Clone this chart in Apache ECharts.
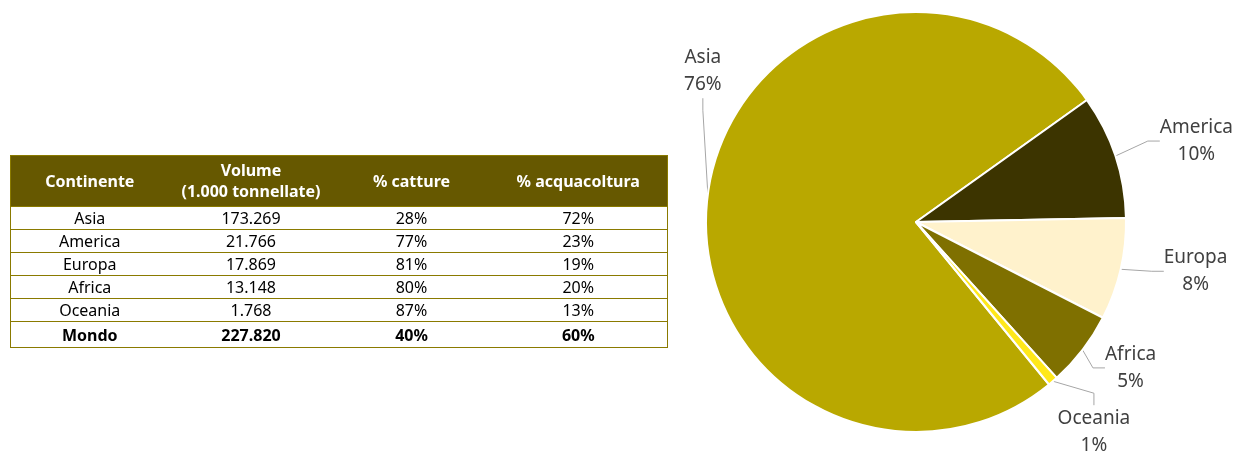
<!DOCTYPE html>
<html>
<head>
<meta charset="utf-8">
<script src="https://cdn.jsdelivr.net/npm/echarts@6/dist/echarts.min.js"></script>
<style>
  html, body { margin: 0; padding: 0; background: #fff; }
  #box { width: 1236px; height: 452px; position: absolute; left: 0; top: 0; }
  #tbl {
    position: absolute; left: 10px; top: 155px; width: 657px; table-layout: fixed;
    border-collapse: collapse; font-family: "Noto Sans", sans-serif; font-size: 16px;
    border: 1px solid #8a7a00;
  }
  #tbl th {
    background: #665800; color: #fff; font-weight: bold; height: 50px;
    line-height: 21px; padding: 0; text-align: center;
  }
  #tbl td {
    height: 22px; padding: 0; text-align: center; color: #000;
    border-top: 1px solid #8a7a00; line-height: 20px;
  }
  #tbl tr.total td { font-weight: bold; height: 25px; }
</style>
</head>
<body>
<div id="box"></div>
<table id="tbl"></table>
<script>
var continents = ["Asia", "America", "Europa", "Africa", "Oceania"];
var volumes = [173.269, 21.766, 17.869, 13.148, 1.768];
var volumeLabels = ["173.269", "21.766", "17.869", "13.148", "1.768"];
var catture = ["28%", "77%", "81%", "80%", "87%"];
var acquacoltura = ["72%", "23%", "19%", "20%", "13%"];
var pieLabels = ["76%", "10%", "8%", "5%", "1%"];
var totalRow = ["Mondo", "227.820", "40%", "60%"];
var headers = ["Continente", "Volume<br>(1.000 tonnellate)", "% catture", "% acquacoltura"];

var colWidths = [158, 165, 156, 178];
var colors = ["#b9a800", "#3c3400", "#fff2cc", "#7f7000", "#ffe81a"];
// spostamento etichette rispetto al bordo della fetta
var labelShift = [[-5, -123], [81, -15], [75, 2], [48, 18], [41, 51]];

// tabella
var html = "<colgroup>" + colWidths.map(function (w) { return '<col style="width:' + w + 'px">'; }).join("") + "</colgroup><tr>";
headers.forEach(function (h) {
  html += "<th>" + h + "</th>";
});
html += "</tr>";
continents.forEach(function (c, i) {
  html += "<tr><td>" + c + "</td><td>" + volumeLabels[i] + "</td><td>" + catture[i] + "</td><td>" + acquacoltura[i] + "</td></tr>";
});
html += '<tr class="total">' + totalRow.map(function (v) { return "<td>" + v + "</td>"; }).join("") + "</tr>";
document.getElementById("tbl").innerHTML = html;

// torta
var myChart = echarts.init(document.getElementById("box"));
var option = {
  animation: false,
  series: [
    {
      type: "pie",
      center: [916, 222],
      radius: 210,
      startAngle: 309.3,
      clockwise: true,
      data: continents.map(function (c, i) {
        return { name: c, value: volumes[i], itemStyle: { color: colors[i] } };
      }),
      itemStyle: { borderColor: "#fff", borderWidth: 2 },
      label: {
        show: true,
        position: "outside",
        fontFamily: "Noto Sans",
        fontSize: 19,
        lineHeight: 27,
        color: "#404040",
        formatter: function (p) {
          return p.name + "\n" + pieLabels[p.dataIndex];
        }
      },
      labelLine: {
        show: true,
        length: 20,
        length2: 12,
        lineStyle: { color: "#a6a6a6", width: 1 }
      },
      labelLayout: function (p) {
        var a = p.labelLinePoints[0];
        var s = labelShift[p.dataIndex];
        return {
          x: a[0] + s[0],
          y: a[1] + s[1],
          align: "center",
          verticalAlign: "middle"
        };
      }
    }
  ]
};
myChart.setOption(option);
</script>
</body>
</html>
